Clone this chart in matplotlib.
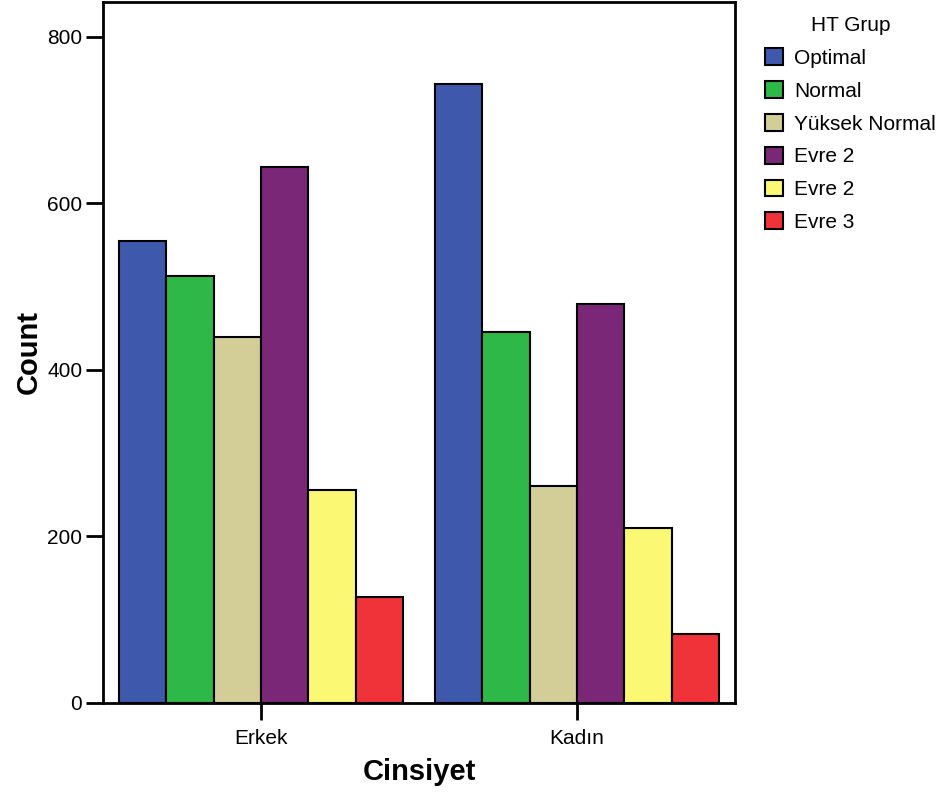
import matplotlib
matplotlib.use("Agg")
import matplotlib.pyplot as plt
import numpy as np
from matplotlib.patches import Patch

plt.rcParams['font.family'] = ['Liberation Sans', 'DejaVu Sans']

categories = ["Erkek", "Kadın"]
groups = ["Optimal", "Normal", "Yüksek Normal", "Evre 2", "Evre 2", "Evre 3"]
colors = ["#3E58AC", "#2EB848", "#D3CE97", "#7B2777", "#FBF873", "#EF3338"]
values = {
    0: [555, 743],
    1: [513, 446],
    2: [440, 261],
    3: [644, 479],
    4: [256, 210],
    5: [127, 83],
}

fig = plt.figure(figsize=(9.44, 7.98), dpi=100)
ax = fig.add_axes([103/944, 95/798, 632/944, 701/798])

x = np.arange(len(categories))
n = len(groups)
width = 0.9 / n
for i in range(n):
    offs = (i - (n - 1) / 2) * width
    ax.bar(x + offs, values[i], width=width, color=colors[i],
           edgecolor="black", linewidth=1.5, zorder=2)

ax.set_xlim(-0.5, 1.5)
ax.set_ylim(0, 842)
ax.set_yticks([0, 200, 400, 600, 800])
ax.set_xticks(x)
ax.set_xticklabels(categories)
ax.tick_params(axis='both', labelsize=15, length=12, width=2)
ax.tick_params(axis='y', pad=3)
ax.tick_params(axis='x', pad=7)
for s in ax.spines.values():
    s.set_linewidth(2)

ax.set_ylabel("Count", fontsize=21, fontweight="bold", labelpad=3)
ax.set_xlabel("Cinsiyet", fontsize=21, fontweight="bold", labelpad=7)

handles = [Patch(facecolor=c, edgecolor="black", linewidth=1.5) for c in colors]
leg = fig.legend(handles, groups, title="HT Grup", loc="upper left",
                 bbox_to_anchor=(746/944, 1.003), frameon=False, fontsize=15,
                 title_fontsize=15, handlelength=0.87, handleheight=0.87,
                 handletextpad=0.55, labelspacing=0.63)

fig.savefig("out.png", dpi=100)
